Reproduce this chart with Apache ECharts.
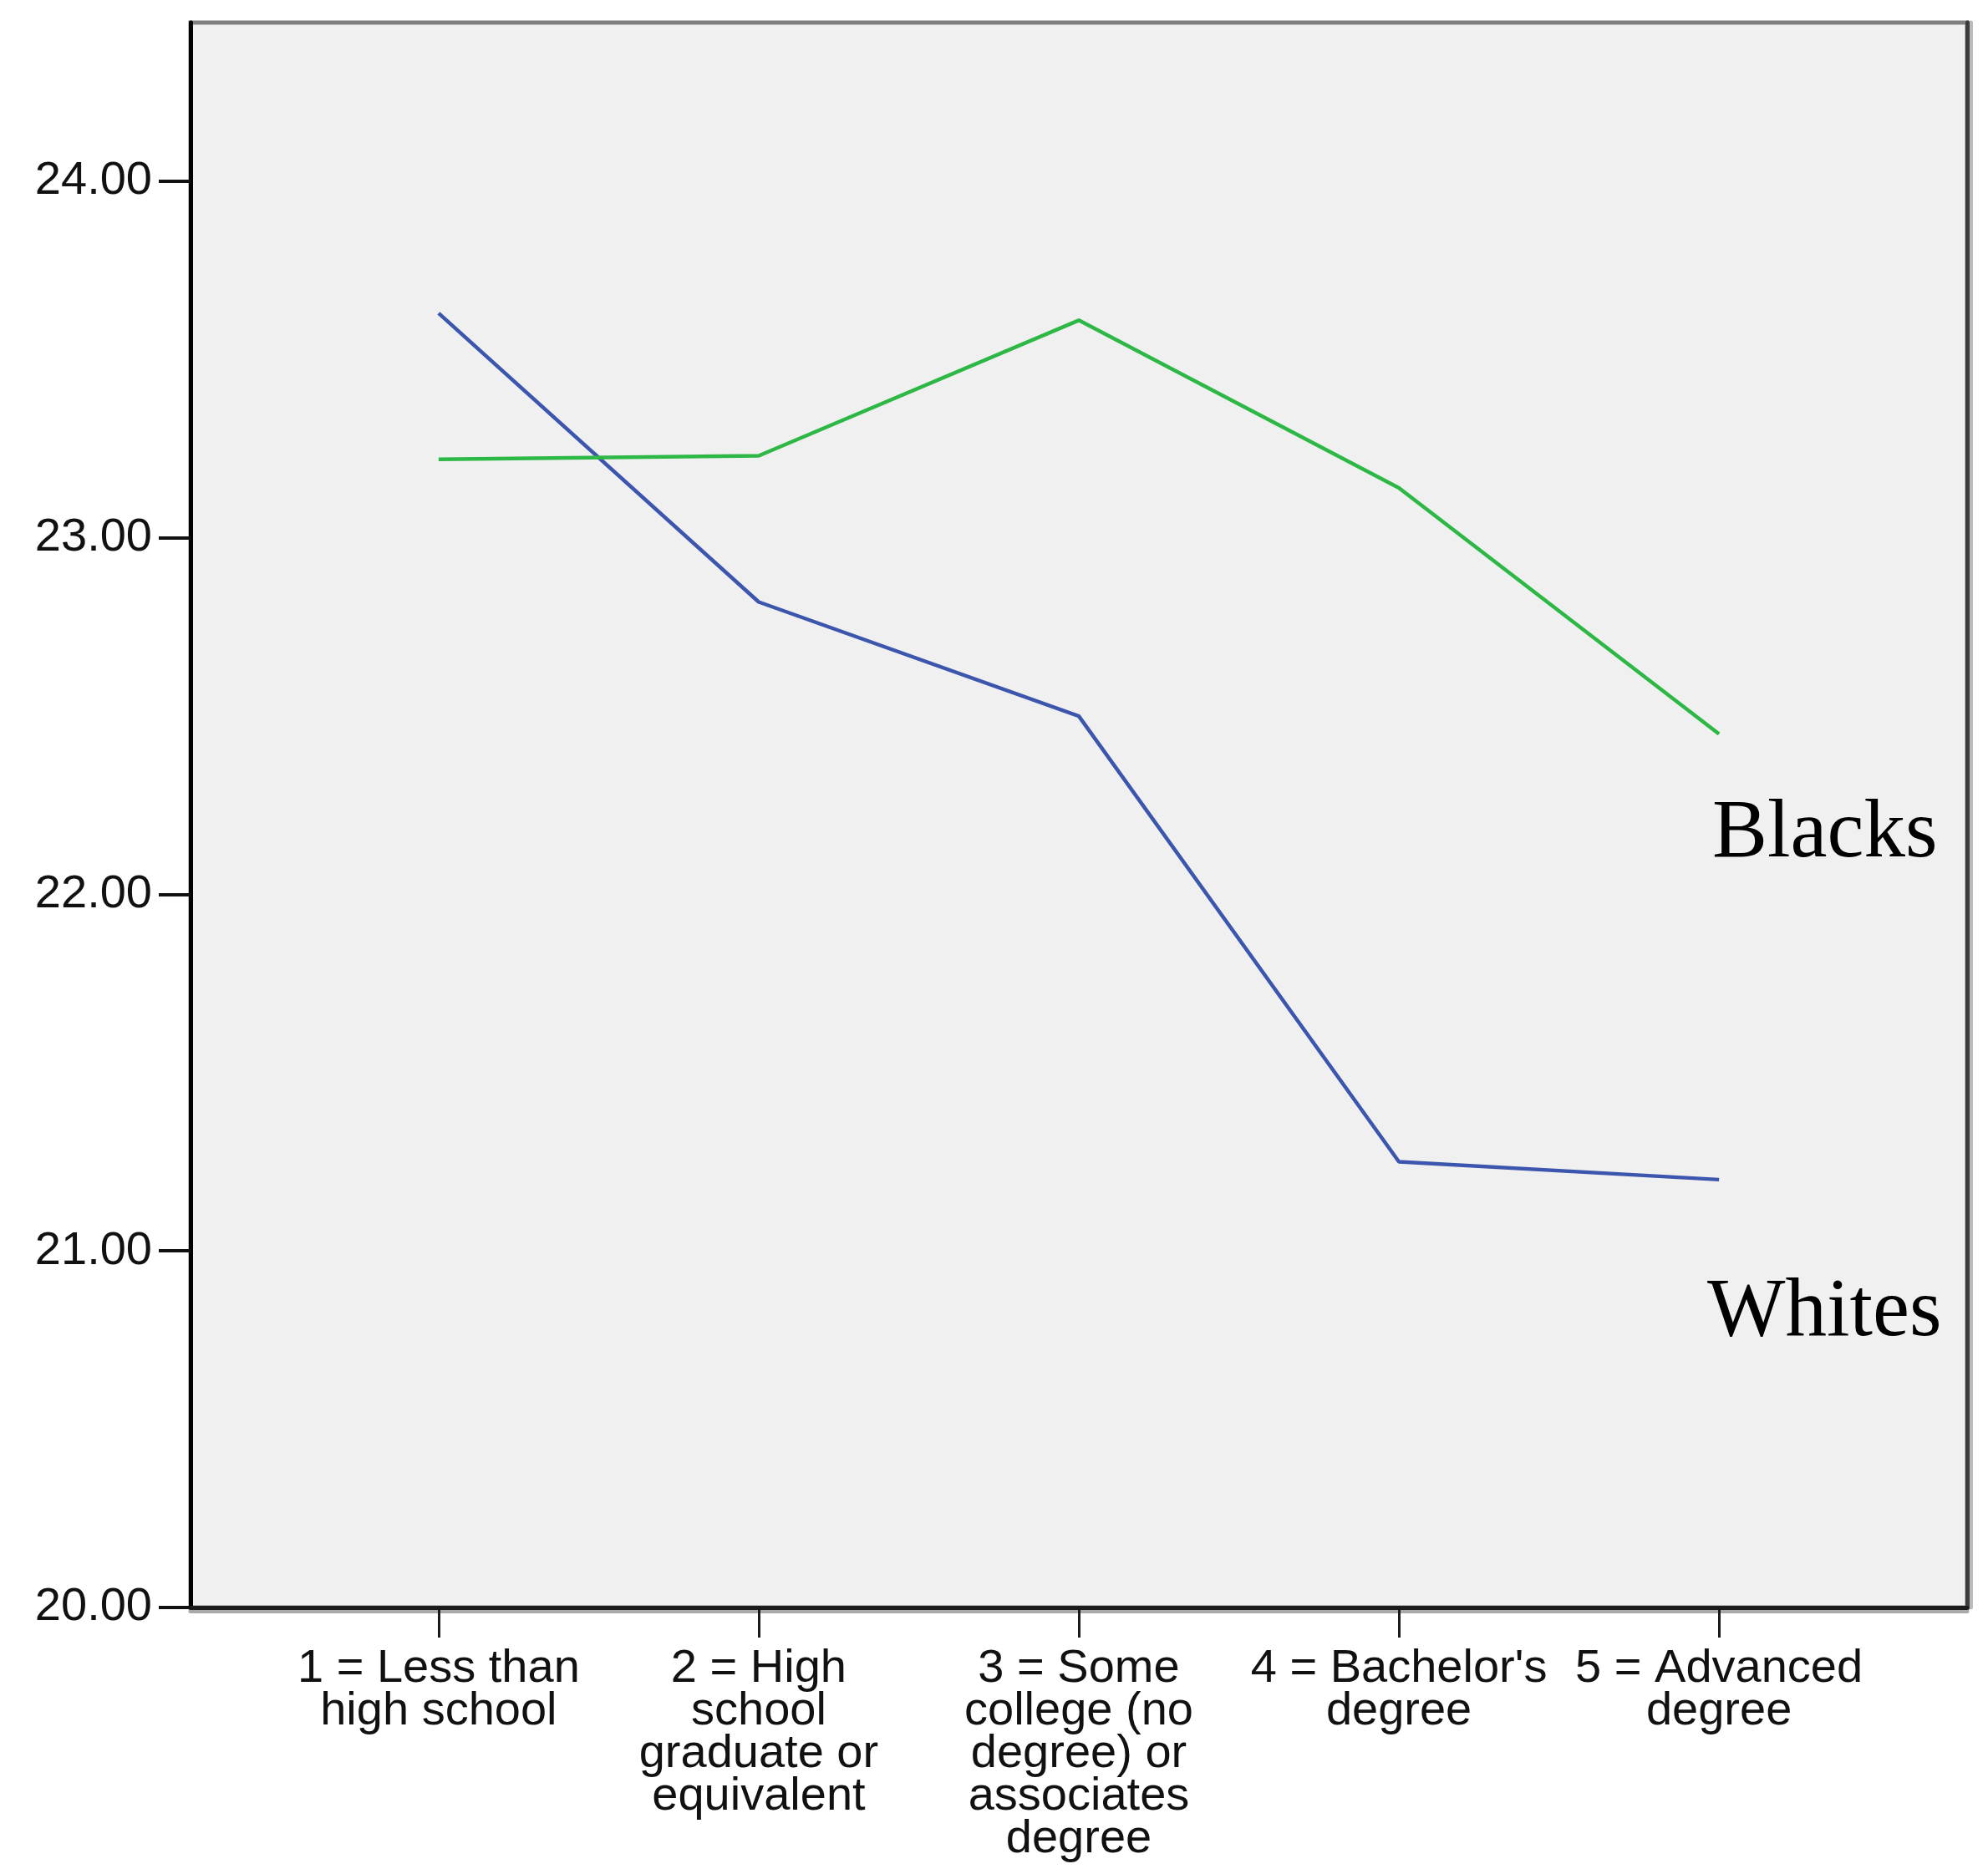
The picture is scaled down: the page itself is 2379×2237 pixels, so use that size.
<!DOCTYPE html>
<html>
<head>
<meta charset="utf-8">
<script src="https://cdn.jsdelivr.net/npm/echarts@6/dist/echarts.min.js"></script>
<style>
html,body{margin:0;padding:0;background:#fff;}
#chart{width:2379px;height:2237px;}
</style>
</head>
<body>
<div id="chart"></div>
<script>
// categories (x positions 1..5)
var categoryLabels = [
  "1 = Less than\nhigh school",
  "2 = High\nschool\ngraduate or\nequivalent",
  "3 = Some\ncollege (no\ndegree) or\nassociates\ndegree",
  "4 = Bachelor's\ndegree",
  "5 = Advanced\ndegree"
];
var categoryPositions = [1, 2, 3, 4, 5];
var whitesValues = [23.63, 22.82, 22.50, 21.25, 21.20];
var blacksValues = [23.22, 23.23, 23.61, 23.14, 22.45];
var yTickValues = [20, 21, 22, 23, 24];
var annotations = ["Blacks", "Whites"];

function pairs(xs, ys) { return xs.map(function (x, i) { return [x, ys[i]]; }); }

var chart = echarts.init(document.getElementById('chart'), null, {renderer: 'canvas'});
var labelFont = '"Liberation Sans", Arial, sans-serif';
chart.setOption({
  animation: false,
  backgroundColor: '#ffffff',
  grid: {
    left: 228, right: 25, top: 27, bottom: 313,
    show: true, backgroundColor: '#f0f0f0', borderColor: '#808080', borderWidth: 5
  },
  xAxis: {
    type: 'value', min: 0.225, max: 5.775,
    axisLine: {show: true, onZero: false, lineStyle: {color: '#1c1c1c', width: 5,
      shadowColor: '#aaaaaa', shadowOffsetY: 4, shadowBlur: 0}},
    axisTick: {show: true, customValues: categoryPositions, length: 36, lineStyle: {color: '#1a1a1a', width: 3}},
    axisLabel: {
      show: true, customValues: categoryPositions, margin: 48,
      fontFamily: labelFont, fontSize: 56, lineHeight: 51, color: '#111', align: 'center',
      formatter: function (v) { return categoryLabels[Math.round(v) - 1] || ''; }
    },
    splitLine: {show: false}
  },
  yAxis: [{
    type: 'value', min: 20, max: 24.445,
    axisLine: {show: true, onZero: false, lineStyle: {color: '#000', width: 5}},
    axisTick: {show: true, customValues: yTickValues, length: 38, lineStyle: {color: '#111', width: 4}},
    axisLabel: {
      show: true, customValues: yTickValues, margin: 46,
      fontFamily: labelFont, fontSize: 56, color: '#111',
      formatter: function (v) { return Number(v).toFixed(2); }
    },
    splitLine: {show: false}
  }, {
    type: 'value', min: 20, max: 24.445, position: 'right',
    axisLine: {show: true, onZero: false, lineStyle: {color: '#3c3c3c', width: 5,
      shadowColor: '#bbbbbb', shadowOffsetX: 4, shadowBlur: 0}},
    axisTick: {show: false}, axisLabel: {show: false}, splitLine: {show: false}
  }],
  series: [{
    name: 'Whites', type: 'line', data: pairs(categoryPositions, whitesValues),
    showSymbol: false, symbol: 'none',
    lineStyle: {color: '#3c56ae', width: 4.5}, itemStyle: {color: '#3c56ae'}
  }, {
    name: 'Blacks', type: 'line', data: pairs(categoryPositions, blacksValues),
    showSymbol: false, symbol: 'none',
    lineStyle: {color: '#2db845', width: 4.5}, itemStyle: {color: '#2db845'}
  }],
  graphic: [{
    type: 'text', x: 2049, y: 999, z: 100,
    style: {text: annotations[0], font: '99px "Liberation Serif", "Times New Roman", serif', fill: '#000',
      align: 'left', verticalAlign: 'middle', textAlign: 'left', textVerticalAlign: 'middle'}
  }, {
    type: 'text', x: 2043, y: 1572, z: 100,
    style: {text: annotations[1], font: '99px "Liberation Serif", "Times New Roman", serif', fill: '#000',
      align: 'left', verticalAlign: 'middle', textAlign: 'left', textVerticalAlign: 'middle'}
  }]
});
</script>
</body>
</html>
